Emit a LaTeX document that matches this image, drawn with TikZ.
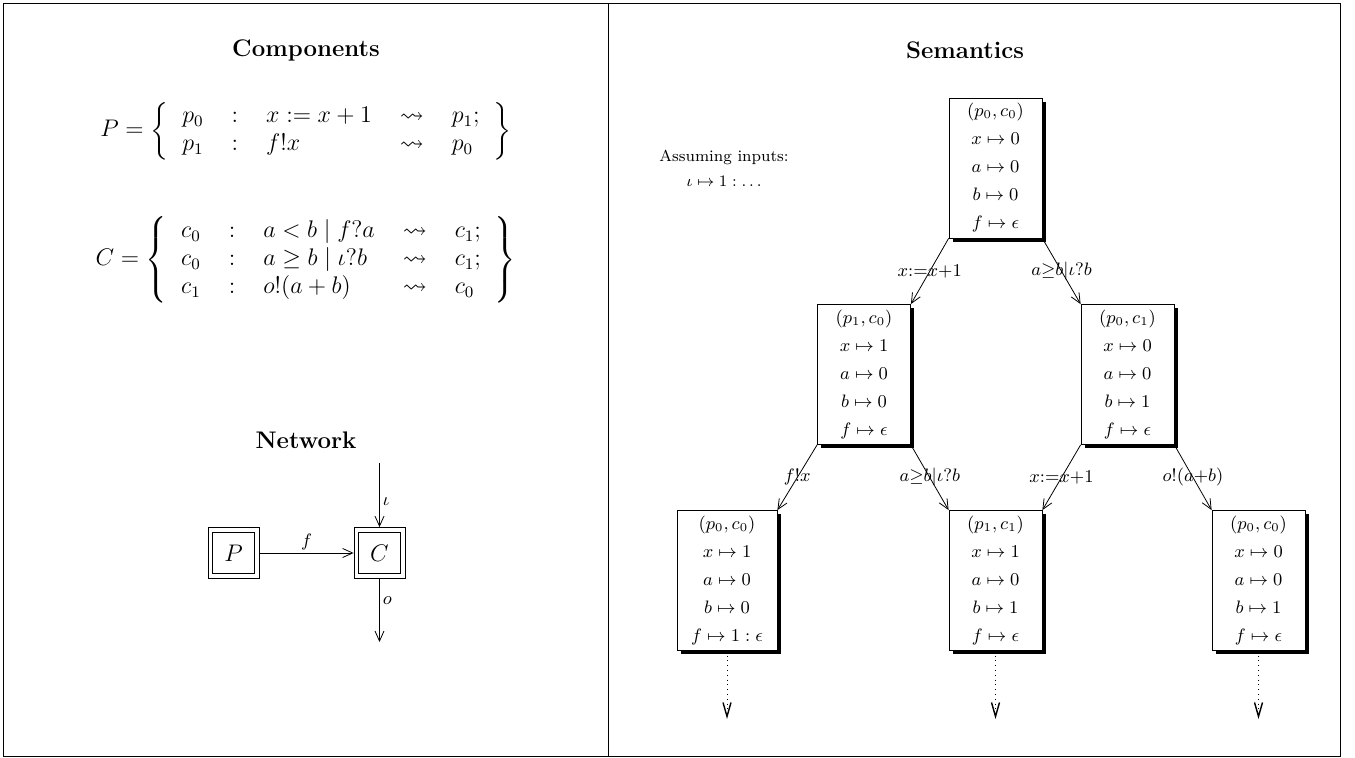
\documentclass[tikz,border=0pt]{standalone}
\usepackage{amsmath,amssymb}
\usetikzlibrary{arrows.meta,shadows}

\begin{document}
\begin{tikzpicture}[x=0.5pt,y=-0.5pt,>={Straight Barb[length=5pt,width=4.5pt]},
  statebox/.style={draw,fill=white,align=center,font=\small,minimum width=46.5pt,minimum height=70pt,inner sep=2pt,
    drop shadow={fill=black,opacity=1,shadow xshift=1.8pt,shadow yshift=-1.8pt}},
  compbox/.style={draw,minimum size=25.5pt,inner sep=0pt,font=\large},
  lab/.style={font=\small,inner sep=1.5pt},
  title/.style={font=\large\bfseries}]
\useasboundingbox (0,0) rectangle (1355,758);
\draw (3,3) rectangle (1340,756);
\draw (608,3) -- (608,756);

% left half: components and network
\node[title] (comptitle) at (306,50) {Components};
\node[font=\large] (pdef) at (306,131) {\arraycolsep=7pt
  $P = \left\{\begin{array}{lclcl}
    p_0 & : & x := x+1 & \leadsto & p_1; \\
    p_1 & : & f!x      & \leadsto & p_0
  \end{array}\right\}$};
\node[font=\large] (cdef) at (306,260) {\arraycolsep=7pt
  $C = \left\{\begin{array}{lclcl}
    c_0 & : & a < b \mid f?a     & \leadsto & c_1; \\
    c_0 & : & a \geq b \mid \iota?b & \leadsto & c_1; \\
    c_1 & : & o!(a+b)            & \leadsto & c_0
  \end{array}\right\}$};

\node[title] (nettitle) at (306,440) {Network};
\node[compbox] (P) at (233.5,553) {$P$};
\node[compbox] (C) at (379.5,553) {$C$};
\foreach \n in {P,C}
  \draw ([shift={(2.5pt,2.5pt)}]\n.south west) rectangle ([shift={(-2.5pt,-2.5pt)}]\n.north east);
\coordinate (iin) at (379.5,463);
\coordinate (oout) at (379.5,642);
\draw[->] (P) -- node[above,lab]{$f$} (C);
\draw[->] (iin) -- node[pos=0.6,right,lab]{$\iota$} (C);
\draw[->] (C) -- node[pos=0.35,right,lab]{$o$} (oout);

% right half: semantics
\node[title] (semtitle) at (965,50) {Semantics};
\node[font=\footnotesize,align=center] (inputs) at (724,168) {Assuming inputs:\\[3pt] $\iota\mapsto 1 : \ldots$};

\node[statebox] (s0) at (995.5,168) {$(p_0,c_0)$\\[3pt] $x\mapsto 0$\\[3pt] $a\mapsto 0$\\[3pt] $b\mapsto 0$\\[3pt] $f\mapsto \epsilon$};
\node[statebox] (s1) at (864,374.5) {$(p_1,c_0)$\\[3pt] $x\mapsto 1$\\[3pt] $a\mapsto 0$\\[3pt] $b\mapsto 0$\\[3pt] $f\mapsto \epsilon$};
\node[statebox] (s2) at (1127.5,374.5) {$(p_0,c_1)$\\[3pt] $x\mapsto 0$\\[3pt] $a\mapsto 0$\\[3pt] $b\mapsto 1$\\[3pt] $f\mapsto \epsilon$};
\node[statebox,minimum width=50pt] (b1) at (727,580.5) {$(p_0,c_0)$\\[3pt] $x\mapsto 1$\\[3pt] $a\mapsto 0$\\[3pt] $b\mapsto 0$\\[3pt] $f\mapsto 1 : \epsilon$};
\node[statebox] (b2) at (995.5,580.5) {$(p_1,c_1)$\\[3pt] $x\mapsto 1$\\[3pt] $a\mapsto 0$\\[3pt] $b\mapsto 1$\\[3pt] $f\mapsto \epsilon$};
\node[statebox] (b3) at (1258.5,580.5) {$(p_0,c_0)$\\[3pt] $x\mapsto 0$\\[3pt] $a\mapsto 0$\\[3pt] $b\mapsto 1$\\[3pt] $f\mapsto \epsilon$};

\draw[->] (s0.south west) -- node[lab]{$x{:=}x{+}1$} (s1.north east);
\draw[->] (s0.south east) -- node[lab]{$a{\geq}b|\iota?b$} (s2.north west);
\draw[->] (s1.south west) -- node[lab]{$f!x$} (b1.north east);
\draw[->] (s1.south east) -- node[lab]{$a{\geq}b|\iota?b$} (b2.north west);
\draw[->] (s2.south west) -- node[lab]{$x{:=}x{+}1$} (b2.north east);
\draw[->] (s2.south east) -- node[lab]{$o!(a{+}b)$} (b3.north west);

% runs continue
\coordinate (e1) at (727,719);
\coordinate (e2) at (995.5,719);
\coordinate (e3) at (1258.5,719);
\foreach \b/\e in {b1/e1,b2/e2,b3/e3}
  \draw[dotted,-{Straight Barb[length=7pt,width=4pt,line width=0.7pt]}] (\b.south) -- (\e);
\end{tikzpicture}
\end{document}
